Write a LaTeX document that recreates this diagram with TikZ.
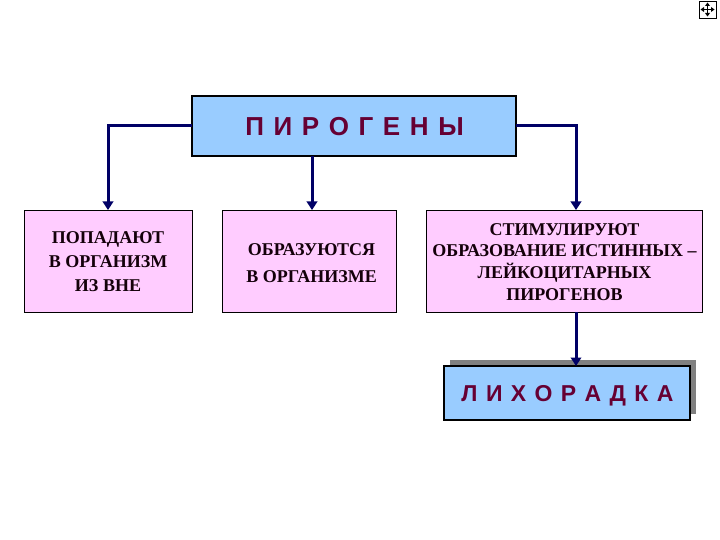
\documentclass[tikz,border=0pt]{standalone}
\usepackage{fontspec}
\setmainfont{Liberation Serif}
\newfontfamily\headfont{Liberation Sans}
\usetikzlibrary{arrows.meta,calc}
\definecolor{headblue}{RGB}{153,204,255}
\definecolor{pinkbox}{RGB}{255,204,255}
\definecolor{navy}{RGB}{0,0,102}
\definecolor{wine}{RGB}{102,0,51}
\definecolor{shadowgray}{RGB}{128,128,128}
\newcommand{\gapA}{\hspace{9.6pt}}
\newcommand{\gapB}{\hspace{8.4pt}}
\tikzset{
  x=1pt,y=-1pt,
  headbox/.style={draw=black,line width=2pt,fill=headblue,inner sep=0,outer sep=0,anchor=north west},
  pinkstyle/.style={draw=black,line width=0.8pt,fill=pinkbox,inner sep=0,outer sep=0,anchor=north west},
  pinktext/.style={inner sep=0,align=center,text=black!80!wine},
  headtext/.style={text=wine},
  conn/.style={draw=navy,line width=3pt,-{Triangle[length=8.5pt,width=10.5pt]}},
}
\begin{document}
\begin{tikzpicture}
\useasboundingbox (0,0) rectangle (720,540);
% navigation icon
\draw[black,line width=0.6pt] (699,1) rectangle (716,18);
\draw[black,line width=0.8pt] (702,9.5) -- (713,9.5) (707.5,4) -- (707.5,15);
\fill[black] (707.5,2.5) -- (705,6) -- (710,6) -- cycle;
\fill[black] (707.5,16.5) -- (705,13) -- (710,13) -- cycle;
\fill[black] (700.5,9.5) -- (704,7) -- (704,12) -- cycle;
\fill[black] (714.5,9.5) -- (711,7) -- (711,12) -- cycle;
% boxes
\node[headbox,minimum width=324pt,minimum height=60pt] (top) at (192,96) {};
\node[headtext,font=\headfont\fontsize{26}{30}\selectfont\bfseries] (toplabel) at (354.5,127) {П\gapA И\gapA Р\gapA О\gapA Г\gapA Е\gapA Н\gapA Ы};
\node[pinkstyle,minimum width=168pt,minimum height=102pt] (left) at (24,210) {};
\node[pinktext,font=\fontsize{18}{24}\selectfont\bfseries] (lefttext) at (108,262) {ПОПАДАЮТ\\В ОРГАНИЗМ\\ИЗ ВНЕ};
\node[pinkstyle,minimum width=174pt,minimum height=102pt] (mid) at (222,210) {};
\node[pinktext,font=\fontsize{18}{27}\selectfont\bfseries] (midtext) at (311.5,263) {ОБРАЗУЮТСЯ\\В ОРГАНИЗМЕ};
\node[pinkstyle,minimum width=276pt,minimum height=102pt] (right) at (426,210) {};
\node[pinktext,font=\fontsize{18}{21.8}\selectfont\bfseries] (righttext) at (564.5,262) {СТИМУЛИРУЮТ\\ОБРАЗОВАНИЕ ИСТИННЫХ –\\ЛЕЙКОЦИТАРНЫХ\\ПИРОГЕНОВ};
\fill[shadowgray] (450,360) rectangle (696,414);
\node[headbox,minimum width=246pt,minimum height=54pt] (fever) at (444,366) {};
\node[headtext,font=\headfont\fontsize{23}{26}\selectfont\bfseries] (feverlabel) at (567.5,396) {Л\gapB И\gapB Х\gapB О\gapB Р\gapB А\gapB Д\gapB К\gapB А};
% connectors
\coordinate (tl) at (108,126);
\coordinate (tr) at (576,126);
\draw[conn] (top.west |- tl) -- (tl) -- (left.north -| tl);
\draw[conn] (top.east |- tr) -- (tr) -- (right.north -| tr);
\draw[conn] (top.south -| 312,0) -- (mid.north -| 312,0);
\draw[conn] (right.south -| tr) -- (fever.north -| tr);
\end{tikzpicture}
\end{document}
